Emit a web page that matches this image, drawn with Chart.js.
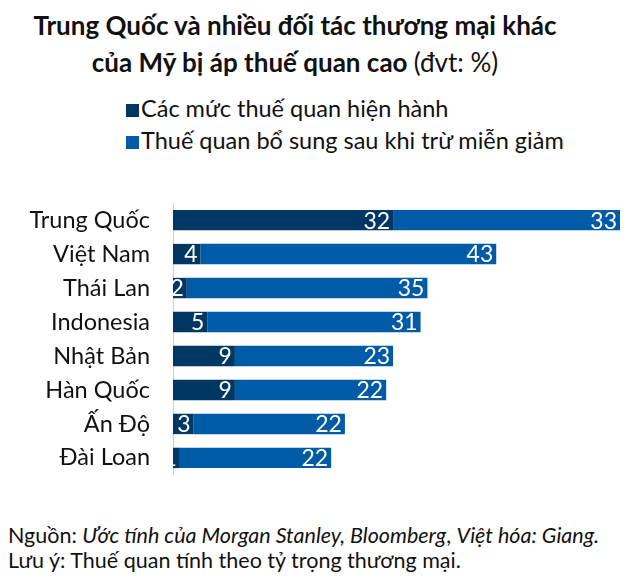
<!DOCTYPE html>
<html><head><meta charset="utf-8">
<script src="https://cdn.jsdelivr.net/npm/chart.js@4"></script>
<style>
body{margin:0;width:644px;height:584px;background:#fff;font-family:Lato,sans-serif;color:#111;position:relative;overflow:hidden}
.t{position:absolute;left:0;width:590px;text-align:center;font-size:26px;font-weight:bold;line-height:30px}
.lg{position:absolute;left:126px;font-size:23.5px;line-height:28px;white-space:nowrap}
.lg i{display:inline-block;width:13px;height:13px;margin-right:2px}
.f{position:absolute;left:8px;font-size:21.5px;line-height:26px;white-space:nowrap}
#c{position:absolute;left:0;top:166px}
</style></head><body>
<div class="t" style="top:10px">Trung Quốc và nhiều đối tác thương mại khác</div>
<div class="t" style="top:47px">của Mỹ bị áp thuế quan cao <span style="font-weight:normal">(đvt: %)</span></div>
<div class="lg" style="top:94px"><i style="background:#003764"></i>Các mức thuế quan hiện hành</div>
<div class="lg" style="top:126px"><i style="background:#005ba6"></i>Thuế quan bổ sung sau khi trừ miễn giảm</div>
<canvas id="c" width="644" height="346"></canvas>
<div class="f" style="top:522px">Nguồn: <i>Ước tính của Morgan Stanley, Bloomberg</i>, <i>Việt hóa: Giang.</i></div>
<div class="f" style="top:547px">Lưu ý: Thuế quan tính theo tỷ trọng thương mại.</div>
<script>
const countries = ["Trung Quốc", "Việt Nam", "Thái Lan", "Indonesia", "Nhật Bản", "Hàn Quốc", "Ấn Độ", "Đài Loan"];
const currentRates = [32, 4, 2, 5, 9, 9, 3, 1];
const addedRates = [33, 43, 35, 31, 23, 22, 22, 22];

// Value labels drawn right-aligned inside the end of each segment.
const endLabels = {
  id: "endLabels",
  afterDatasetsDraw(chart) {
    const ctx = chart.ctx;
    ctx.save();
    ctx.fillStyle = "#fff";
    ctx.font = "23px Lato";
    ctx.textAlign = "right";
    ctx.textBaseline = "middle";
    chart.data.datasets.forEach((ds, i) => {
      chart.getDatasetMeta(i).data.forEach((bar, j) => {
        ctx.fillText(ds.data[j], bar.x - 3, bar.y + 1);
      });
    });
    ctx.restore();
  },
};

new Chart(document.getElementById("c"), {
  type: "bar",
  data: {
    labels: countries,
    datasets: [
      { label: "Các mức thuế quan hiện hành", data: currentRates, backgroundColor: "#003764" },
      { label: "Thuế quan bổ sung sau khi trừ miễn giảm", data: addedRates, backgroundColor: "#005ba6" },
    ],
  },
  options: {
    indexAxis: "y",
    responsive: false,
    animation: false,
    barPercentage: 0.6,
    categoryPercentage: 1,
    layout: { padding: { right: 24 } },
    plugins: { legend: { display: false }, tooltip: { enabled: false } },
    scales: {
      x: { stacked: true, min: 0, max: 65, display: false },
      y: {
        stacked: true,
        grid: { display: false, drawTicks: false },
        border: { color: "#d0d0d0" },
        ticks: { color: "#111", padding: 23, font: { family: "Lato", size: 23.5 } },
        afterFit(scale) { scale.width = 173; },
      },
    },
  },
  plugins: [endLabels],
});
</script>
</body></html>
